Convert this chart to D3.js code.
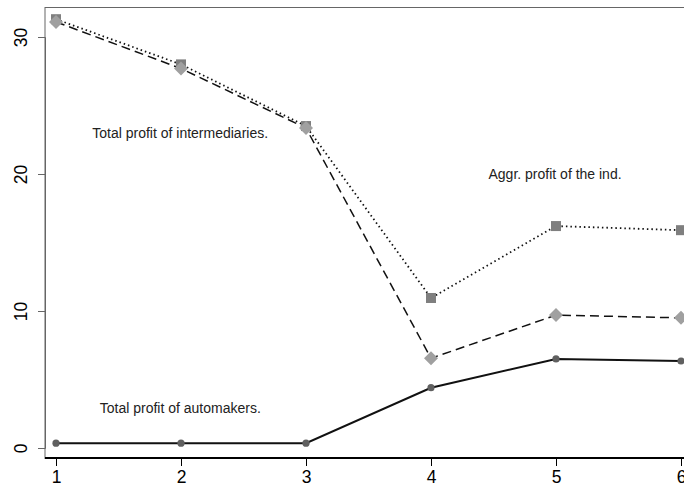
<!DOCTYPE html>
<html><head><meta charset="utf-8">
<script src="https://cdn.jsdelivr.net/npm/d3@7"></script>
<style>body{margin:0;background:#fff}svg{display:block}</style>
</head><body>
<script>
const periods = [1, 2, 3, 4, 5, 6];
const intermediaries = [31.3, 28.0, 23.5, 10.95, 16.2, 15.9];
const aggregate = [31.1, 27.7, 23.35, 6.55, 9.7, 9.5];
const automakers = [0.35, 0.35, 0.35, 4.4, 6.5, 6.35];
const yTicks = [0, 10, 20, 30];
const labels = [
  {text: "Total profit of intermediaries.", x: 1.29, y: 22.6},
  {text: "Aggr. profit of the ind.", x: 4.46, y: 19.6},
  {text: "Total profit of automakers.", x: 1.35, y: 2.55}
];

const W = 684, H = 490;
const svg = d3.select("body").append("svg").attr("width", W).attr("height", H);
const x = d3.scaleLinear().domain([1, 6]).range([56, 681]);
const y = d3.scaleLinear().domain([0, 30]).range([448, 37]);

svg.append("rect").attr("x", 45).attr("y", 7.5).attr("width", 700).attr("height", 451)
  .attr("fill", "none").attr("stroke", "#666").attr("stroke-width", 1);

const ya = svg.append("g").attr("transform", "translate(45,0)")
  .call(d3.axisLeft(y).tickValues(yTicks).tickSize(7).tickPadding(0).tickFormat(d3.format("d")));
ya.select(".domain").attr("stroke", "#666");
ya.selectAll(".tick line").attr("stroke", "#666");
ya.selectAll(".tick text").attr("transform", "rotate(-90)").attr("x", 0).attr("y", -18)
  .attr("dy", 0).attr("text-anchor", "middle").attr("font-family", "Liberation Sans, Arial, sans-serif")
  .attr("font-size", 17.5).attr("fill", "#000");

const xa = svg.append("g").attr("transform", "translate(0,458)")
  .call(d3.axisBottom(x).tickValues(periods).tickSize(8).tickPadding(5).tickFormat(d3.format("d")));
xa.select(".domain").attr("stroke", "#000").attr("stroke-width", 2).attr("d", "M45,0H700");
xa.selectAll(".tick line").attr("stroke", "#000");
xa.selectAll(".tick text").attr("font-family", "Liberation Sans, Arial, sans-serif")
  .attr("font-size", 17.5).attr("fill", "#000");

const line = d3.line().x((d, i) => x(periods[i])).y(d => y(d));

svg.append("path").datum(aggregate).attr("d", line).attr("fill", "none")
  .attr("stroke", "#111").attr("stroke-width", 1.5).attr("stroke-dasharray", "9,5");
svg.append("path").datum(intermediaries).attr("d", line).attr("fill", "none")
  .attr("stroke", "#111").attr("stroke-width", 1.8).attr("stroke-dasharray", "1.5,3");
svg.append("path").datum(automakers).attr("d", line).attr("fill", "none")
  .attr("stroke", "#111").attr("stroke-width", 2);

svg.selectAll(".sq").data(intermediaries).join("rect")
  .attr("x", (d, i) => x(periods[i]) - 5).attr("y", d => y(d) - 5)
  .attr("width", 10).attr("height", 10).attr("fill", "#7f7f7f");
svg.selectAll(".dm").data(aggregate).join("path")
  .attr("d", (d, i) => { const cx = x(periods[i]), cy = y(d); return `M${cx},${cy-7}L${cx+7},${cy}L${cx},${cy+7}L${cx-7},${cy}Z`; })
  .attr("fill", "#a0a0a0");
svg.selectAll(".ci").data(automakers).join("circle")
  .attr("cx", (d, i) => x(periods[i])).attr("cy", d => y(d)).attr("r", 3.6).attr("fill", "#606060");

svg.selectAll(".lab").data(labels).join("text")
  .attr("x", d => x(d.x)).attr("y", d => y(d.y))
  .attr("font-family", "Liberation Sans, Arial, sans-serif").attr("font-size", 14)
  .attr("fill", "#222").text(d => d.text);
</script>
</body></html>
